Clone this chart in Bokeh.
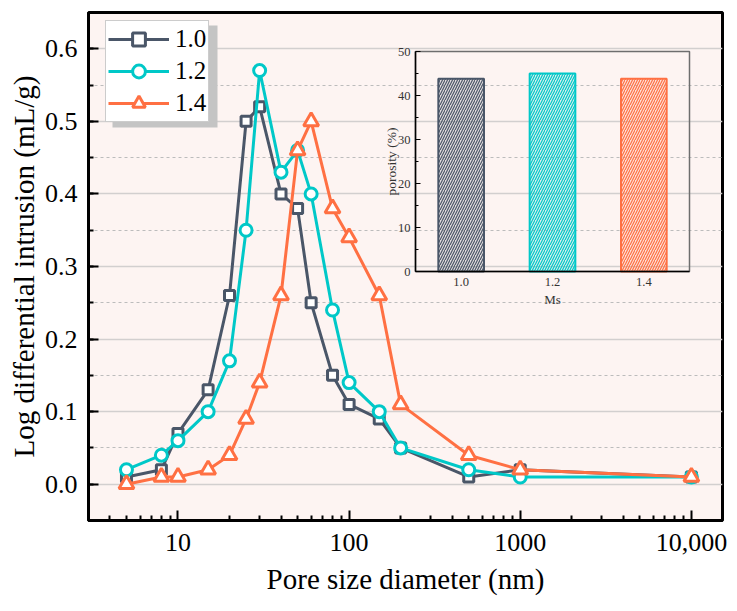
import math
from bokeh.plotting import figure
from bokeh.models import (Range1d, LinearScale, FixedTicker, SingleIntervalTicker,
                          PrintfTickFormatter, Legend, LegendItem, ColumnDataSource)
from bokeh.core.properties import value
from bokeh.embed import file_html
from bokeh.resources import INLINE

# ---------------- data ----------------
pore_size = [5, 8, 10, 15, 20, 25, 30, 40, 50, 60, 80, 100, 150, 200, 500, 1000, 10000]
ms_10 = [0.01, 0.02, 0.07, 0.13, 0.26, 0.50, 0.52, 0.40, 0.38, 0.25, 0.15, 0.11, 0.09, 0.05, 0.01, 0.02, 0.01]
ms_12 = [0.02, 0.04, 0.06, 0.10, 0.17, 0.35, 0.57, 0.43, 0.46, 0.40, 0.24, 0.14, 0.10, 0.05, 0.02, 0.01, 0.01]
ms_14 = [0.00, 0.01, 0.01, 0.02, 0.04, 0.09, 0.14, 0.26, 0.46, 0.50, 0.38, 0.34, 0.26, 0.11, 0.04, 0.02, 0.01]
series_labels = ["1.0", "1.2", "1.4"]
series_colors = ["#4a5668", "#00c8c8", "#ff7043"]
series_markers = ["square", "circle", "triangle"]

x_tick_values = [10, 100, 1000, 10000]
x_tick_labels = ["10", "100", "1000", "10,000"]

ms_categories = ["1.0", "1.2", "1.4"]
porosity = [43.8, 45.0, 43.8]
inset_y_ticks = [0, 10, 20, 30, 40, 50]

FONT = "Liberation Serif"

# ---------------- layout ----------------
W, H = 727, 601
ML, MR, MT, MB = 88, 5, 12, 81
FW, FH = W - ML - MR, H - MT - MB

p = figure(width=W, height=H, x_axis_type="log",
           x_range=Range1d(3, 15200), y_range=Range1d(-0.05, 0.65),
           output_backend="svg", toolbar_location=None,
           min_border_left=ML, min_border_right=MR, min_border_top=MT, min_border_bottom=MB,
           x_axis_label="Pore size diameter (nm)",
           y_axis_label="Log differential intrusion (mL/g)")
p.background_fill_color = "#fdf4f2"
p.border_fill_color = "white"
p.outline_line_color = "black"
p.outline_line_width = 3

# inset placement (frame pixel box) -> extra ranges
INS_L, INS_R, INS_T, INS_B = 327, 601, 39, 259
ix0, ix1, iy0, iy1 = 0.5, len(ms_categories) + 0.5, inset_y_ticks[0], inset_y_ticks[-1]
ux = (ix1 - ix0) / (INS_R - INS_L)
uy = (iy1 - iy0) / (INS_B - INS_T)
p.extra_x_ranges = {"inset": Range1d(ix0 - INS_L * ux, ix1 + (FW - INS_R) * ux),
                    "px": Range1d(0, FW)}
p.extra_y_ranges = {"inset": Range1d(iy0 - (FH - INS_B) * uy, iy1 + INS_T * uy),
                    "px": Range1d(FH, 0)}
p.extra_x_scales = {"inset": LinearScale(), "px": LinearScale()}
p.extra_y_scales = {"inset": LinearScale(), "px": LinearScale()}

# ---------------- axes ----------------
minor_x = [m * 10 ** k for k in range(0, 5) for m in range(2, 10)]
p.xaxis.ticker = FixedTicker(ticks=x_tick_values, minor_ticks=minor_x)
p.xaxis.major_label_overrides = {v: l for v, l in zip(x_tick_values, x_tick_labels)}
p.yaxis.ticker = SingleIntervalTicker(interval=0.1, num_minor_ticks=2)
p.yaxis.formatter = PrintfTickFormatter(format="%.1f")

for ax in (p.xaxis, p.yaxis):
    ax.axis_line_width = 3
    ax.axis_line_color = "black"
    ax.major_tick_in = 10
    ax.major_tick_out = 0
    ax.minor_tick_in = 5
    ax.minor_tick_out = 0
    ax.major_tick_line_width = 2
    ax.minor_tick_line_width = 2
    ax.major_tick_line_color = "black"
    ax.minor_tick_line_color = "black"
    ax.major_label_text_font = FONT
    ax.major_label_text_font_size = "26px"
    ax.major_label_text_color = "black"
    ax.axis_label_text_font = FONT
    ax.axis_label_text_font_size = "29px"
    ax.axis_label_text_font_style = "normal"
    ax.axis_label_text_color = "black"
p.xaxis.major_label_standoff = 13
p.xaxis.axis_label_standoff = 9
p.yaxis.major_label_standoff = 11
p.yaxis.axis_label_standoff = 2

p.xgrid.visible = False
p.ygrid.grid_line_color = "#d2cfcf"
p.ygrid.grid_line_width = 1.5
p.ygrid.minor_grid_line_color = "#bcbcbc"
p.ygrid.minor_grid_line_dash = "3 3"
p.ygrid.minor_grid_line_width = 1

# ---------------- series ----------------
items = []
for lab, ys, col, mk, sz in zip(series_labels, [ms_10, ms_12, ms_14], series_colors,
                                series_markers, [10, 12, 15]):
    src = ColumnDataSource(dict(x=pore_size, y=ys))
    lr = p.line("x", "y", source=src, line_color=col, line_width=3)
    sr = p.scatter("x", "y", source=src, marker=mk, size=sz, line_color=col,
                   line_width=3, fill_color="white")
    items.append(LegendItem(label=lab, renderers=[lr, sr]))

# legend shadow (frame pixel coordinates)
p.quad(left=[24], right=[129], top=[13], bottom=[115], x_range_name="px", y_range_name="px",
       fill_color="#c4c4c4", line_color=None)

legend = Legend(items=items, location=(17, FH - 6 - 104))
legend.margin = 0
legend.padding = 2
legend.spacing = 0
legend.glyph_width = 61
legend.glyph_height = 32
legend.label_height = 32
legend.label_standoff = 6
legend.label_text_font = FONT
legend.label_text_font_size = "25px"
legend.label_text_color = "black"
legend.border_line_color = "#9a9a9a"
legend.border_line_width = 1
legend.background_fill_color = "white"
legend.background_fill_alpha = 1
p.add_layout(legend)

# ---------------- inset bar chart ----------------
bar_x = [i + 1 for i in range(len(ms_categories))]
bsrc = ColumnDataSource(dict(x=bar_x, top=porosity, color=series_colors))
p.vbar(x="x", top="top", bottom=0, width=0.5, source=bsrc,
       x_range_name="inset", y_range_name="inset",
       fill_color="color", fill_alpha=0.15, line_color="color", line_width=2,
       hatch_pattern="/", hatch_color="color", hatch_scale=5, hatch_weight=1.2)

# inset frame
p.quad(left=[ix0], right=[ix1], bottom=[iy0], top=[iy1], x_range_name="inset", y_range_name="inset",
       fill_alpha=0, line_color="#6e6e6e", line_width=1.5)
p.segment(x0=[ix0, ix0], y0=[iy0, iy0], x1=[ix0, ix1], y1=[iy1, iy0],
          x_range_name="inset", y_range_name="inset", line_color="black", line_width=1.5)
# inset ticks (inside)
minor_inset = [t + 5 for t in inset_y_ticks[:-1]]
p.segment(x0=[ix0] * len(inset_y_ticks), x1=[ix0 + 5 * ux] * len(inset_y_ticks),
          y0=inset_y_ticks, y1=inset_y_ticks, x_range_name="inset", y_range_name="inset",
          line_color="black", line_width=1)
p.segment(x0=[ix0] * len(minor_inset), x1=[ix0 + 3 * ux] * len(minor_inset),
          y0=minor_inset, y1=minor_inset, x_range_name="inset", y_range_name="inset",
          line_color="black", line_width=1)
# inset tick labels
p.text(x=[ix0] * len(inset_y_ticks), y=inset_y_ticks, text=[str(t) for t in inset_y_ticks],
       x_range_name="inset", y_range_name="inset", x_offset=-5,
       text_font=value(FONT), text_font_size=value("12.5px"), text_color="#333333",
       text_align="right", text_baseline="middle")
p.text(x=bar_x, y=[iy0] * len(bar_x), text=ms_categories,
       x_range_name="inset", y_range_name="inset", y_offset=6,
       text_font=value(FONT), text_font_size=value("12.5px"), text_color="#333333",
       text_align="center", text_baseline="top")
p.text(x=[(ix0 + ix1) / 2], y=[iy0], text=["Ms"],
       x_range_name="inset", y_range_name="inset", y_offset=20,
       text_font=value(FONT), text_font_size=value("13px"), text_color="#333333",
       text_align="center", text_baseline="top")
p.text(x=[ix0], y=[(iy0 + iy1) / 2], text=["porosity (%)"],
       x_range_name="inset", y_range_name="inset", x_offset=-24, angle=math.pi / 2,
       text_font=value(FONT), text_font_size=value("13.5px"), text_color="#333333",
       text_align="center", text_baseline="middle")

open("out.html", "w").write(file_html(p, INLINE))
